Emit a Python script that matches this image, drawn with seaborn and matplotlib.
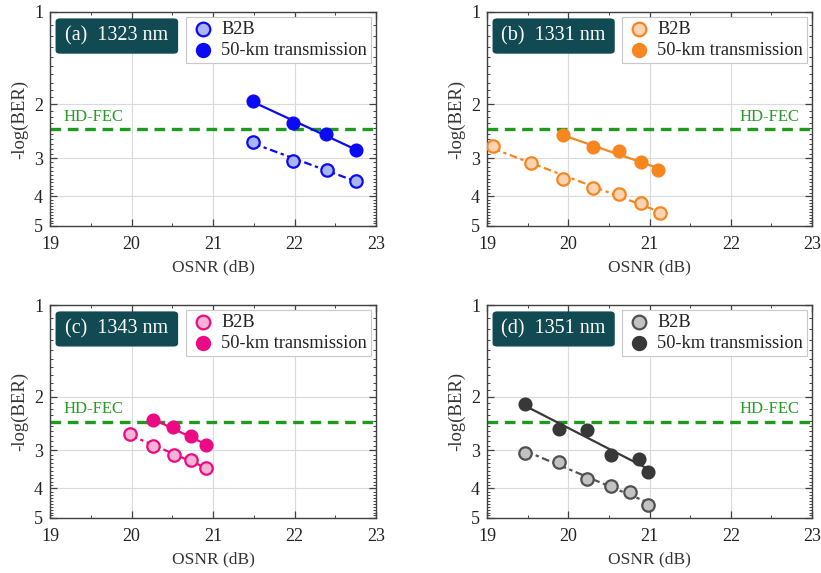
import numpy as np
import matplotlib
matplotlib.use("Agg")
import matplotlib.pyplot as plt
from matplotlib.patches import FancyBboxPatch
from matplotlib.ticker import FixedLocator, NullFormatter
import seaborn as sns

# ---------------- data ----------------
panel_labels = ["(a)  1323 nm", "(b)  1331 nm", "(c)  1343 nm", "(d)  1351 nm"]

a_b2b_x = [21.49, 21.98, 22.40, 22.75]
a_b2b_y = [2.66, 3.06, 3.27, 3.57]
a_tx_x = [21.49, 21.98, 22.39, 22.75]
a_tx_y = [1.95, 2.31, 2.50, 2.82]

b_b2b_x = [19.07, 19.54, 19.94, 20.30, 20.63, 20.89, 21.13]
b_b2b_y = [2.75, 3.11, 3.52, 3.75, 3.92, 4.22, 4.52]
b_tx_x = [19.94, 20.30, 20.63, 20.89, 21.10]
b_tx_y = [2.53, 2.77, 2.85, 3.09, 3.27]

c_b2b_x = [19.98, 20.26, 20.52, 20.73, 20.91]
c_b2b_y = [2.65, 2.91, 3.10, 3.22, 3.43]
c_tx_x = [20.26, 20.51, 20.73, 20.91]
c_tx_y = [2.39, 2.51, 2.70, 2.89]

d_b2b_x = [19.47, 19.88, 20.23, 20.52, 20.76, 20.98]
d_b2b_y = [3.05, 3.27, 3.73, 3.92, 4.12, 4.53]
d_tx_x = [19.47, 19.88, 20.23, 20.52, 20.87, 20.98]
d_tx_y = [2.11, 2.56, 2.57, 3.10, 3.21, 3.53]

hd_fec = 2.42
x_ticks = [19, 20, 21, 22, 23]
y_ticks = [1, 2, 3, 4, 5]
series_names = ["B2B", "50-km transmission"]

main_colors = ["#0a0af5", "#f7861f", "#ec0a84", "#383838"]
face_colors = ["#aab6f4", "#fbd4b4", "#f6b3d4", "#c2c2c2"]
b2b_edge = ["#0a0af5", "#f7861f", "#ec0a84", "#505050"]

data = [
    (a_b2b_x, a_b2b_y, a_tx_x, a_tx_y),
    (b_b2b_x, b_b2b_y, b_tx_x, b_tx_y),
    (c_b2b_x, c_b2b_y, c_tx_x, c_tx_y),
    (d_b2b_x, d_b2b_y, d_tx_x, d_tx_y),
]
hd_left = [True, False, True, False]

# ---------------- style ----------------
sns.set_theme(style="ticks")
plt.rcParams["font.family"] = ["Liberation Serif", "DejaVu Serif"]
plt.rcParams["axes.edgecolor"] = "#404040"
plt.rcParams["axes.linewidth"] = 1.0

fig = plt.figure(figsize=(8.21, 5.73), dpi=100)
positions = [
    [0.0609, 0.6056, 0.3971, 0.3735],
    [0.5932, 0.6056, 0.3959, 0.3735],
    [0.0609, 0.0960, 0.3971, 0.3717],
    [0.5932, 0.0960, 0.3959, 0.3717],
]


def fit_line(x, y):
    x = np.asarray(x, float)
    ly = np.log10(np.asarray(y, float))
    k, b = np.polyfit(x, ly, 1)
    xs = np.array([x.min(), x.max()])
    return xs, 10 ** (k * xs + b)


for i, pos in enumerate(positions):
    ax = fig.add_axes(pos)
    bx, by, tx, ty = data[i]
    mc, fc, be = main_colors[i], face_colors[i], b2b_edge[i]

    ax.set_yscale("log")
    ax.set_xlim(19, 23)
    ax.set_ylim(5, 1)
    ax.grid(True, which="major", color="#dadada", linewidth=0.8)
    ax.set_axisbelow(True)

    # HD-FEC
    ax.axhline(hd_fec, color="#1e9a1e", linestyle=(0, (3.2, 2.0)), linewidth=2.4, zorder=2)
    if hd_left[i]:
        ax.text(19.16, hd_fec * 0.965, "HD-FEC", color="#2a9a2a", fontsize=12,
                ha="left", va="bottom", zorder=3)
    else:
        ax.text(22.84, hd_fec * 0.965, "HD-FEC", color="#2a9a2a", fontsize=12,
                ha="right", va="bottom", zorder=3)

    # fit lines
    fx, fy = fit_line(bx, by)
    sns.lineplot(x=fx, y=fy, ax=ax, color=be, linewidth=1.6,
                 linestyle=(0, (3.5, 1.6, 1.5, 1.6)), zorder=3)
    fx, fy = fit_line(tx, ty)
    sns.lineplot(x=fx, y=fy, ax=ax, color=mc, linewidth=1.6, zorder=3)

    # markers
    sns.scatterplot(x=bx, y=by, ax=ax, s=80, color=fc, edgecolor=be,
                    linewidth=1.6, label=series_names[0], zorder=4)
    sns.scatterplot(x=tx, y=ty, ax=ax, s=80, color=mc, edgecolor=mc,
                    linewidth=1.2, label=series_names[1], zorder=4)

    # ticks
    ax.set_xticks(x_ticks)
    ax.xaxis.set_minor_locator(FixedLocator([19.5, 20.5, 21.5, 22.5]))
    ax.set_yticks(y_ticks)
    ax.set_yticklabels([str(v) for v in y_ticks])
    ax.yaxis.set_minor_locator(FixedLocator(np.round(np.arange(1.1, 5.0, 0.1), 2)))
    ax.yaxis.set_minor_formatter(NullFormatter())
    ax.tick_params(which="both", direction="in", top=True, right=True,
                   colors="#404040", labelcolor="#222222")
    ax.tick_params(which="major", length=5, width=0.9, labelsize=13)
    ax.tick_params(axis="x", which="major", pad=7)
    ax.tick_params(axis="y", which="major", pad=5)
    ax.tick_params(which="minor", length=2.5, width=0.7)

    ax.set_xlabel("OSNR (dB)", fontsize=12.5, color="#333333", labelpad=5)
    ax.set_ylabel("-log(BER)", fontsize=13.5, color="#333333", labelpad=4)

    # legend
    leg = ax.legend(loc="upper right", fontsize=13.2, frameon=True, fancybox=False,
                    edgecolor="#c8c8c8", framealpha=1, borderaxespad=0.25,
                    handletextpad=0.35, borderpad=0.25, labelspacing=0.2,
                    handlelength=1.3, markerscale=1.1)
    leg.get_frame().set_linewidth(0.8)
    for t in leg.get_texts():
        t.set_color("#222222")

    # title box
    box = FancyBboxPatch((0.017, 0.805), 0.376, 0.165, transform=ax.transAxes,
                         boxstyle="round,pad=0,rounding_size=0.015",
                         facecolor="#114a52", edgecolor="none", zorder=5)
    ax.add_patch(box)
    ax.text(0.205, 0.888, panel_labels[i], transform=ax.transAxes, color="white",
            fontsize=14.5, ha="center", va="center", zorder=6)

fig.savefig("out.png", dpi=100)
